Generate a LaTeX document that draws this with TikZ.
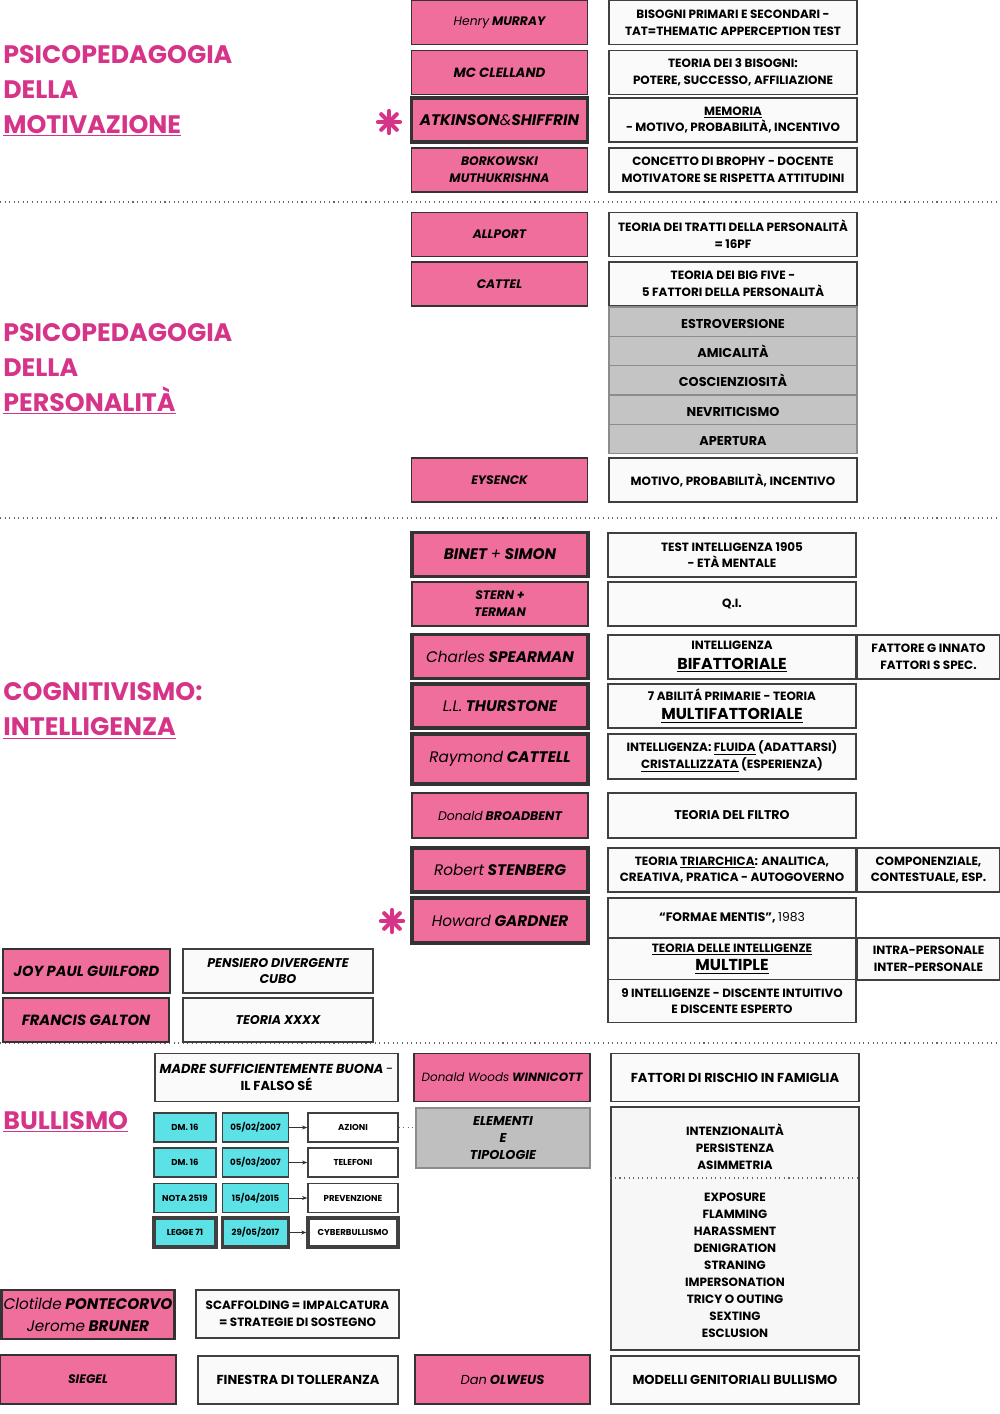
\documentclass[tikz,border=0pt]{standalone}
\usepackage{fontspec}
\setmainfont{Poppins}
\usetikzlibrary{arrows.meta}

\definecolor{rosa}{RGB}{240,110,155}
\definecolor{titolo}{RGB}{214,52,136}
\definecolor{ciano}{RGB}{92,225,230}
\definecolor{grigio}{RGB}{196,196,196}
\definecolor{carta}{RGB}{250,250,250}

\tikzset{
  autore/.style={draw=black!80, fill=rosa, line width=0.8pt, align=center, inner sep=1pt,
    minimum width=3.52cm, minimum height=0.88cm, font=\fontsize{7}{9.6}\selectfont\bfseries\itshape},
  autoreforte/.style={autore, line width=2pt, font=\fontsize{8.7}{10}\selectfont\bfseries\itshape},
  nota/.style={draw=black!75, fill=carta, line width=0.8pt, align=center, inner sep=1pt,
    minimum width=4.96cm, minimum height=0.88cm, font=\fontsize{6.8}{9.6}\selectfont\bfseries},
  notagrande/.style={nota, font=\fontsize{7.4}{9.6}\selectfont\bfseries},
  extra/.style={nota, minimum width=2.86cm},
  fattore/.style={nota, fill=grigio, draw=black!45, minimum height=0.586cm, text height=1.6ex, text depth=0.2ex,
    font=\fontsize{7.3}{9}\selectfont\bfseries},
  legge/.style={draw=black!75, fill=ciano, line width=0.8pt, minimum height=0.58cm, inner sep=0pt,
    font=\fontsize{4.9}{6}\selectfont\bfseries},
  sezione/.style={anchor=west, align=left, inner sep=0pt, text=titolo, font=\fontsize{14.4}{19.85}\selectfont\bfseries},
  separa/.style={black!60, dotted, line width=0.6pt},
  elenco/.style={align=center, font=\fontsize{6.8}{9.7}\selectfont\bfseries}
}

\begin{document}
\begin{tikzpicture}[x=0.02cm, y=-0.02cm]
\useasboundingbox (0,0) rectangle (1000,1414);

% sections
\draw[separa] (0,202) -- (1000,202);
\draw[separa] (0,518) -- (1000,518);
\draw[separa] (0,1043) -- (1000,1043);

% PSICOPEDAGOGIA DELLA MOTIVAZIONE
\node[sezione] (motivazione) at (3,91) {PSICOPEDAGOGIA\\DELLA\\\underline{MOTIVAZIONE}};
\node[autore] (murray) at (499.5,22.5) {{\mdseries Henry} MURRAY};
\node[nota] (murraytxt) at (733,22.5) {BISOGNI PRIMARI E SECONDARI -\\TAT=THEMATIC APPERCEPTION TEST};
\node[autore, font=\fontsize{7.6}{9}\selectfont\bfseries\itshape] (clelland) at (499.5,72.5) {MC CLELLAND};
\node[nota] (clellandtxt) at (733,72.5) {TEORIA DEI 3 BISOGNI:\\POTERE, SUCCESSO, AFFILIAZIONE};
\node[autoreforte] (atkinson) at (499.5,120) {ATKINSON{\mdseries\&}SHIFFRIN};
\node[nota] (atkinsontxt) at (733,120) {\underline{MEMORIA}\\- MOTIVO, PROBABILITÀ, INCENTIVO};
\node[autore] (borkowski) at (499.5,170) {BORKOWSKI\\MUTHUKRISHNA};
\node[nota] (borkowskitxt) at (733,170) {CONCETTO DI BROPHY - DOCENTE\\MOTIVATORE SE RISPETTA ATTITUDINI};
\foreach \a in {0,45,...,315}
  \draw[titolo, line width=2.4pt, line cap=round] (389,122) -- ++(\a:11);

% PSICOPEDAGOGIA DELLA PERSONALITA
\node[sezione] (personalita) at (3,369) {PSICOPEDAGOGIA\\DELLA\\\underline{PERSONALITÀ}};
\node[autore] (allport) at (499.5,234.5) {ALLPORT};
\node[nota] (allporttxt) at (733,234.5) {TEORIA DEI TRATTI DELLA PERSONALITÀ\\= 16PF};
\node[autore] (cattel) at (499.5,284) {CATTEL};
\node[nota] (catteltxt) at (733,284) {TEORIA DEI BIG FIVE -\\5 FATTORI DELLA PERSONALITÀ};
\foreach \t [count=\i] in {ESTROVERSIONE, AMICALITÀ, COSCIENZIOSITÀ, NEVRITICISMO, APERTURA}
  \node[fattore] (bigfive\i) at (733,{292.35+29.3*\i}) {\t};
\node[autore] (eysenck) at (499.5,480) {EYSENCK};
\node[nota] (eysencktxt) at (733,480) {MOTIVO, PROBABILITÀ, INCENTIVO};

% COGNITIVISMO
\node[sezione] (cognitivismo) at (3,711) {COGNITIVISMO:\\\underline{INTELLIGENZA}};
\node[autoreforte] (binet) at (500,554.5) {BINET {\mdseries+} SIMON};
\node[nota] (binettxt) at (732,555) {TEST INTELLIGENZA 1905\\- ETÀ MENTALE};
\node[autore] (stern) at (500,604) {STERN +\\TERMAN};
\node[nota] (sterntxt) at (732,604) {Q.I.};
\node[autoreforte] (spearman) at (500,656.5) {{\mdseries Charles} SPEARMAN};
\node[nota] (spearmantxt) at (732,657) {INTELLIGENZA\\[1.5pt]{\fontsize{9}{11}\selectfont\underline{BIFATTORIALE}}};
\node[extra] (spearmanex) at (928.5,657) {FATTORE G INNATO\\FATTORI S SPEC.};
\node[autoreforte] (thurstone) at (500,706) {{\mdseries L.L.} THURSTONE};
\node[nota] (thurstonetxt) at (732,706) {7 ABILITÁ PRIMARIE - TEORIA\\[1.5pt]{\fontsize{9}{11}\selectfont\underline{MULTIFATTORIALE}}};
\node[autoreforte, minimum height=1cm] (cattell) at (500,759) {{\mdseries Raymond} CATTELL};
\node[nota, minimum height=0.9cm] (cattelltxt) at (732,756.5) {INTELLIGENZA: \underline{FLUIDA} (ADATTARSI)\\\underline{CRISTALLIZZATA} (ESPERIENZA)};
\node[autore, minimum height=0.9cm, font=\fontsize{7.1}{9}\selectfont\bfseries\itshape] (broadbent) at (500,815.5) {{\mdseries Donald} BROADBENT};
\node[nota, minimum height=0.9cm, font=\fontsize{7.2}{9}\selectfont\bfseries] (broadbenttxt) at (732,815.5) {TEORIA DEL FILTRO};
\node[autoreforte] (stenberg) at (500,870) {{\mdseries Robert} STENBERG};
\node[nota] (stenbergtxt) at (732,870) {TEORIA \underline{TRIARCHICA}: ANALITICA,\\CREATIVA, PRATICA - AUTOGOVERNO};
\node[extra] (stenbergex) at (928.5,870) {COMPONENZIALE,\\CONTESTUALE, ESP.};
\node[autoreforte, minimum height=0.9cm] (gardner) at (500,920.5) {{\mdseries Howard} GARDNER};
\foreach \a in {0,45,...,315}
  \draw[titolo, line width=2.4pt, line cap=round] (392,921) -- ++(\a:11);
\node[nota, minimum height=0.8cm, font=\fontsize{7}{9}\selectfont\bfseries] (formae) at (732,918) {“FORMAE MENTIS”, {\mdseries 1983}};
\node[nota, minimum height=0.82cm] (multiple) at (732,959) {\underline{TEORIA DELLE INTELLIGENZE}\\[1pt]{\fontsize{9}{11}\selectfont\underline{MULTIPLE}}};
\node[extra, minimum height=0.84cm] (multipleex) at (928.5,959) {INTRA-PERSONALE\\INTER-PERSONALE};
\node[nota, minimum height=0.86cm] (nove) at (732,1001) {9 INTELLIGENZE - DISCENTE INTUITIVO\\E DISCENTE ESPERTO};
\node[autore, minimum width=3.34cm, font=\fontsize{8.3}{9.6}\selectfont\bfseries\itshape] (guilford) at (86.5,971) {JOY PAUL GUILFORD};
\node[nota, minimum width=3.8cm, font=\fontsize{7.2}{9.6}\selectfont\bfseries\itshape] (guilfordtxt) at (278,971) {PENSIERO DIVERGENTE\\CUBO};
\node[autore, line width=1.4pt, minimum width=3.32cm, font=\fontsize{8.4}{9.6}\selectfont\bfseries\itshape] (galton) at (86,1020) {FRANCIS GALTON};
\node[nota, minimum width=3.8cm, font=\fontsize{7.2}{9.6}\selectfont\bfseries\itshape] (galtontxt) at (278,1020) {TEORIA XXXX};

% BULLISMO
\node[sezione] (bullismo) at (3,1122) {\underline{BULLISMO}};
\node[notagrande, minimum width=4.86cm, minimum height=0.96cm] (madre) at (276.5,1077.5) {{\itshape MADRE SUFFICIENTEMENTE BUONA} {\mdseries -}\\IL FALSO SÉ};
\node[autore, minimum height=0.96cm, font=\fontsize{6.8}{9}\selectfont\bfseries\itshape] (winnicott) at (502,1077.5) {{\mdseries Donald Woods} WINNICOTT};
\node[notagrande, minimum height=0.96cm] (rischio) at (735,1077.5) {FATTORI DI RISCHIO IN FAMIGLIA};
\node[nota, fill=black!25, draw=black!45, minimum width=3.48cm, minimum height=1.2cm, font=\fontsize{7.3}{9.6}\selectfont\bfseries\itshape] (elementi) at (503,1138) {ELEMENTI\\E\\TIPOLOGIE};

\node[legge, minimum width=1.24cm] (dm1) at (185,1127.5) {DM. 16};
\node[legge, minimum width=1.32cm] (data1) at (255.5,1127.5) {05/02/2007};
\node[legge, fill=white, minimum width=1.8cm] (azioni) at (353,1127.5) {AZIONI};
\node[legge, minimum width=1.24cm] (dm2) at (185,1162.5) {DM. 16};
\node[legge, minimum width=1.32cm] (data2) at (255.5,1162.5) {05/03/2007};
\node[legge, fill=white, minimum width=1.8cm] (telefoni) at (353,1162.5) {TELEFONI};
\node[legge, minimum width=1.24cm] (nota3) at (185,1198) {NOTA 2519};
\node[legge, minimum width=1.32cm] (data3) at (255.5,1198) {15/04/2015};
\node[legge, fill=white, minimum width=1.8cm] (prevenzione) at (353,1198) {PREVENZIONE};
\node[legge, line width=1.8pt, minimum width=1.24cm] (legge4) at (185,1232.5) {LEGGE 71};
\node[legge, line width=1.8pt, minimum width=1.32cm] (data4) at (255.5,1232.5) {29/05/2017};
\node[legge, line width=1.8pt, fill=white, minimum width=1.8cm] (cyber) at (353,1232.5) {CYBERBULLISMO};
\draw[-{Stealth[length=3pt]}, black!80] (data1) -- (azioni);
\draw[-{Stealth[length=3pt]}, black!80] (data2) -- (telefoni);
\draw[-{Stealth[length=3pt]}, black!80] (data3) -- (prevenzione);
\draw[-{Stealth[length=3pt]}, black!80] (data4) -- (cyber);
\draw[separa] (azioni.east) -- (azioni.east -| elementi.west);

\node[nota, fill=black!3, minimum height=4.86cm] (tipi) at (735,1228.5) {};
\node[elenco] (criteri) at (735,1147) {INTENZIONALITÀ\\PERSISTENZA\\ASIMMETRIA};
\draw[separa] (tipi.west |- 0,1178) -- (tipi.east |- 0,1178);
\node[elenco] (forme) at (735,1265.5) {EXPOSURE\\FLAMMING\\HARASSMENT\\DENIGRATION\\STRANING\\IMPERSONATION\\TRICY O OUTING\\SEXTING\\ESCLUSION};

\node[autoreforte, line width=1.6pt, minimum width=3.46cm, minimum height=0.98cm, font=\fontsize{8.7}{12.5}\selectfont\bfseries\itshape] (pontecorvo) at (88,1314.5) {{\mdseries Clotilde} PONTECORVO\\{\mdseries Jerome} BRUNER};
\node[nota, minimum width=4.06cm, minimum height=0.96cm] (scaffolding) at (297.5,1314) {SCAFFOLDING = IMPALCATURA\\= STRATEGIE DI SOSTEGNO};
\node[autore, minimum height=0.98cm] (siegel) at (88,1379.5) {SIEGEL};
\node[notagrande, minimum width=4cm, minimum height=0.96cm] (finestra) at (298,1380) {FINESTRA DI TOLLERANZA};
\node[autore, minimum width=3.5cm, minimum height=0.98cm, font=\fontsize{7.4}{9}\selectfont\bfseries\itshape] (olweus) at (502.5,1379.5) {{\mdseries Dan} OLWEUS};
\node[notagrande, minimum height=0.96cm] (modelli) at (735,1380) {MODELLI GENITORIALI BULLISMO};
\end{tikzpicture}
\end{document}
